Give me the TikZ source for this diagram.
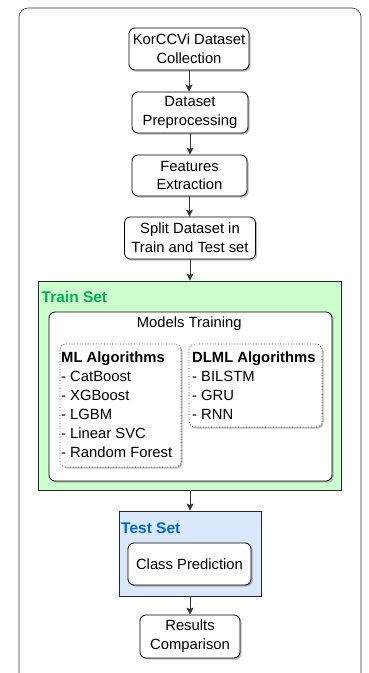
\documentclass[tikz,border=0pt]{standalone}
\usepackage{fontspec}
\setmainfont{Liberation Sans}
\usetikzlibrary{shadows,arrows.meta}

\definecolor{trainfill}{HTML}{CCFFCC}
\definecolor{traintext}{HTML}{00B050}
\definecolor{testfill}{HTML}{DAE8FC}
\definecolor{testtext}{HTML}{0066CC}
\definecolor{edge}{HTML}{333333}

\begin{document}
\begin{tikzpicture}[x=1pt,y=-1pt,
  boxshadow/.style={drop shadow={shadow xshift=1.6pt, shadow yshift=-1.6pt, fill=black!50, opacity=0.55}},
  stepbox/.style={draw=black, line width=0.8pt, rounded corners=6pt, fill=white,
    align=center, inner sep=0pt, font=\fontsize{14.8}{18.8}\selectfont, boxshadow},
  twoline/.style={execute at begin node={\rule{0pt}{14.2pt}}},
  groupbox/.style={draw=black!85, line width=0.8pt, inner sep=0pt},
  algobox/.style={draw=black!80, line width=0.7pt, dotted, rounded corners=6pt, fill=white, inner sep=0pt, boxshadow},
  grouptitle/.style={font=\fontsize{15.5}{18}\selectfont\bfseries, inner sep=0pt, anchor=west},
  itemtext/.style={font=\fontsize{14.8}{18}\selectfont, inner sep=0pt, anchor=base west},
  arr/.style={draw=edge, line width=0.8pt, -{Stealth[length=7pt,width=7pt,inset=1.5pt]}},
  frame/.style={draw=black!80, line width=0.6pt, rounded corners=9pt}
]
\useasboundingbox (0,0) rectangle (368,673);

% outer frame, open at the bottom
\draw[frame] (19,690) -- (19,8) -- (361,8) -- (361,690);

% pipeline steps
\node[stepbox, twoline, minimum width=120pt, minimum height=42pt] (collect) at (189,49) {KorCCVi Dataset\\Collection};
\node[stepbox, twoline, minimum width=116pt, minimum height=41pt] (prep) at (190,112.5) {Dataset\\Preprocessing};
\node[stepbox, twoline, minimum width=115pt, minimum height=41pt] (feat) at (189.5,175.5) {Features\\Extraction};
\node[stepbox, minimum width=131pt, minimum height=42pt] (split) at (190,238) {Split Dataset in\\Train and Test set};

% training group
\node[groupbox, fill=trainfill, minimum width=303pt, minimum height=209pt] (train) at (189.5,385.5) {};
\node[grouptitle, text=traintext] (trainlbl) at (41.5,296.7) {Train Set};
\node[stepbox, minimum width=283pt, minimum height=169pt] (models) at (190.5,396.5) {};
\node[itemtext, anchor=base, font=\fontsize{14.8}{18}\selectfont] (modelslbl) at (189.2,327.3) {Models Training};

\node[algobox, minimum width=121pt, minimum height=123pt] (ml) at (120.5,405.5) {};
\node[algobox, minimum width=133pt, minimum height=83pt] (dl) at (255.5,385.5) {};

\node[itemtext, font=\fontsize{14.8}{18}\selectfont\bfseries] (mlhead) at (61,362.6) {ML Algorithms};
\foreach \t [count=\i] in {CatBoost, XGBoost, LGBM, Linear SVC, Random Forest}
  \node[itemtext] (ml\i) at (61,362.6+19*\i) {- \t};

\node[itemtext, font=\fontsize{14.8}{18}\selectfont\bfseries] (dlhead) at (192,362.6) {DLML Algorithms};
\foreach \t [count=\i] in {BILSTM, GRU, RNN}
  \node[itemtext] (dl\i) at (192,362.6+19*\i) {- \t};

% test group
\node[groupbox, fill=testfill, minimum width=142pt, minimum height=85pt] (test) at (190,553.5) {};
\node[grouptitle, text=testtext] (testlbl) at (121,528) {Test Set};
\node[stepbox, minimum width=123pt, minimum height=42pt] (predict) at (189.5,564) {Class Prediction};

\node[stepbox, twoline, minimum width=100pt, minimum height=43pt] (results) at (190,636.5) {Results\\Comparison};

% connectors
\draw[arr] (collect.south) -- (collect.south |- prep.north);
\draw[arr] (prep.south) -- (prep.south |- feat.north);
\draw[arr] (feat.south) -- (feat.south |- split.north);
\draw[arr] (split.south) -- (split.south |- train.north);
\draw[arr] (test.north |- train.south) -- (test.north);
\draw[arr] (test.south) -- (test.south |- results.north);
\end{tikzpicture}
\end{document}
